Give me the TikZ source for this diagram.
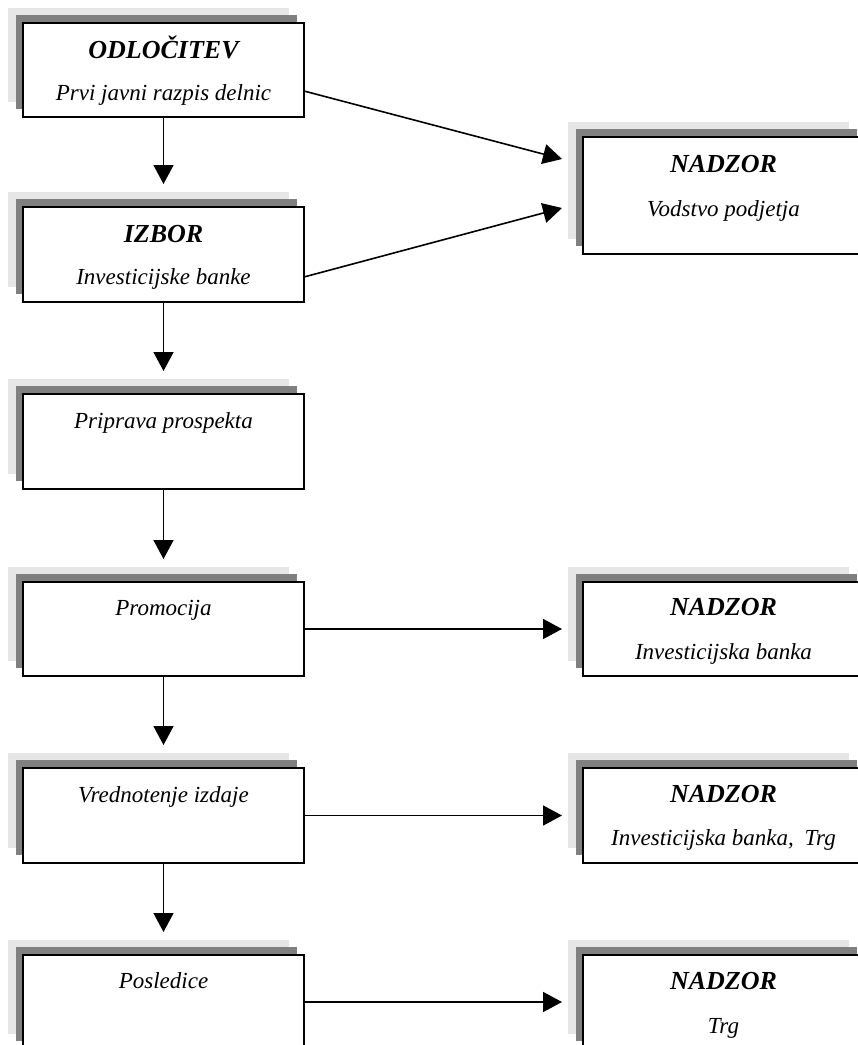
\documentclass[tikz,border=0pt]{standalone}
\usepackage{fontspec}
\setmainfont{Liberation Serif}
\usetikzlibrary{arrows.meta,calc}
\definecolor{shlight}{HTML}{E6E6E6}
\definecolor{shdark}{HTML}{808080}
\tikzset{
  flowbox/.style={draw=black, fill=white, line width=1.6pt, minimum width=281pt,
    anchor=north west, inner sep=0pt, outer sep=0pt},
  ttl/.style={font=\fontsize{26}{30}\selectfont\bfseries\itshape, inner sep=0pt, anchor=base},
  sub/.style={font=\fontsize{23}{27}\selectfont\itshape, inner sep=0pt, anchor=base},
  arr/.style={line width=1.6pt, -{Triangle[length=19pt,width=20pt]}},
}
% name, x, y (top left, px), height
\newcommand\shadowbox[4]{%
  \fill[shlight] (#2-15,-#3+15) rectangle ++(281,-#4);
  \fill[shdark] (#2-7,-#3+8) rectangle ++(281,-#4);
  \node[flowbox, minimum height=#4pt] (#1) at (#2,-#3) {};
}
\begin{document}
\begin{tikzpicture}[x=1pt,y=1pt]
\clip (0,0) rectangle (858,-1045);
\fill[white] (0,0) rectangle (858,-1045);

% left column
\shadowbox{b1}{23}{23}{94}
\shadowbox{b2}{23}{207}{95}
\shadowbox{b3}{23}{394}{95}
\shadowbox{b4}{23}{582}{94}
\shadowbox{b5}{23}{768}{95}
\shadowbox{b6}{23}{955}{94}
% right column
\shadowbox{r1}{583}{137}{117}
\shadowbox{r2}{583}{582}{94}
\shadowbox{r3}{583}{768}{95}
\shadowbox{r4}{583}{955}{94}

% texts
\node[ttl] (b1t) at ($(b1.north)+(0,-35)$) {ODLOČITEV};
\node[sub] (b1s) at ($(b1.north)+(0,-77)$) {Prvi javni razpis delnic};
\node[ttl] (b2t) at ($(b2.north)+(0,-35)$) {IZBOR};
\node[sub] (b2s) at ($(b2.north)+(0,-77)$) {Investicijske banke};
\node[sub] (b3s) at ($(b3.north)+(0,-34)$) {Priprava prospekta};
\node[sub] (b4s) at ($(b4.north)+(0,-33)$) {Promocija};
\node[sub] (b5s) at ($(b5.north)+(0,-34)$) {Vrednotenje izdaje};
\node[sub] (b6s) at ($(b6.north)+(0,-33)$) {Posledice};

\node[ttl] (r1t) at ($(r1.north)+(0,-35)$) {NADZOR};
\node[sub] (r1s) at ($(r1.north)+(0,-79)$) {Vodstvo podjetja};
\node[ttl] (r2t) at ($(r2.north)+(0,-33)$) {NADZOR};
\node[sub] (r2s) at ($(r2.north)+(0,-77)$) {Investicijska banka};
\node[ttl] (r3t) at ($(r3.north)+(0,-34)$) {NADZOR};
\node[sub] (r3s) at ($(r3.north)+(0,-77)$) {Investicijska banka,\hspace{5pt} Trg};
\node[ttl] (r4t) at ($(r4.north)+(0,-34)$) {NADZOR};
\node[sub] (r4s) at ($(r4.north)+(0,-78)$) {Trg};

% vertical arrows
\draw[arr, shorten >=23pt] (b1.south) -- (b2.north);
\draw[arr, shorten >=23pt] (b2.south) -- (b3.north);
\draw[arr, shorten >=23pt] (b3.south) -- (b4.north);
\draw[arr, shorten >=23pt] (b4.south) -- (b5.north);
\draw[arr, shorten >=23pt] (b5.south) -- (b6.north);

% diagonal arrows
\coordinate (d1s) at ($(b1.north east)+(0,-68)$);
\coordinate (d1e) at ($(r1.north west)+(-21,-22)$);
\coordinate (d2s) at ($(b2.north east)+(0,-70)$);
\coordinate (d2e) at ($(r1.north west)+(-21,-71)$);
\draw[arr] (d1s) -- (d1e);
\draw[arr] (d2s) -- (d2e);

% horizontal arrows
\draw[arr, shorten >=21pt] (b4.east) -- (r2.west);
\draw[arr, shorten >=21pt] (b5.east) -- (r3.west);
\draw[arr, shorten >=21pt] (b6.east) -- (r4.west);
\end{tikzpicture}
\end{document}
